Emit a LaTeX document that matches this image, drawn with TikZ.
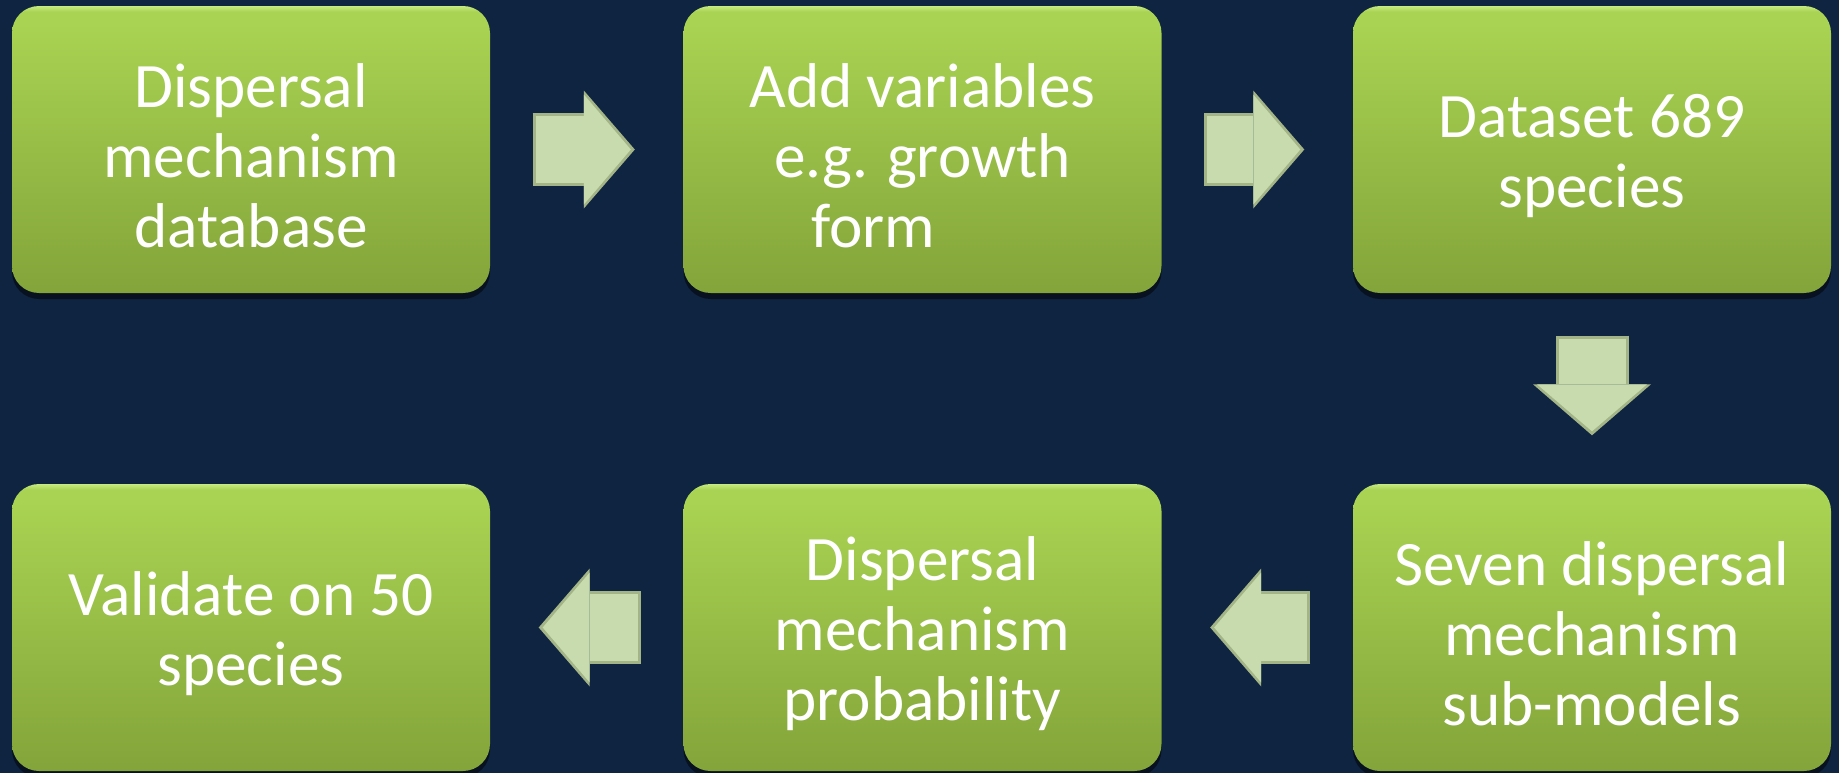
\documentclass[tikz,border=0pt]{standalone}
\usepackage{fontspec}
\setmainfont{Carlito}
\usetikzlibrary{arrows.meta, shadows}

\definecolor{bgnavy}{HTML}{0F2441}
\definecolor{boxhi}{HTML}{C6EA80}
\definecolor{boxtop}{HTML}{A9D352}
\definecolor{boxbot}{HTML}{83A43A}
\definecolor{arrowedge}{HTML}{A3B587}
\definecolor{arrowface}{HTML}{C7DBAE}

% degrade vertical des boites (bande claire en haut)
\pgfdeclareverticalshading{boxshade}{100bp}{color(0bp)=(boxbot); color(25bp)=(boxbot);
  color(72bp)=(boxtop); color(74bp)=(boxtop); color(75bp)=(boxhi); color(100bp)=(boxhi)}

% petit espace en tete pour descendre le texte
\newcommand{\topgap}{\rule{0pt}{5.6mm}}

\begin{document}
\begin{tikzpicture}[
    x=0.1mm, y=-0.1mm,
    stepbox/.style={rounded corners=2.7mm, shading=boxshade, minimum width=47.8mm,
        minimum height=28.7mm, inner sep=0pt, align=center, text=white,
        drop shadow={shadow xshift=0pt, shadow yshift=-0.6mm, opacity=0.5, fill=black}},
    % Fleche en deux couches : bord sombre puis face claire
    arrowbase/.style={draw=arrowedge, line width=7.3mm, shorten <=4.2mm, shorten >=4.8mm,
        -{Triangle[width=11.8mm, length=5.1mm, line width=0pt]}},
    arrowtop/.style={draw=arrowface, line width=6.7mm, shorten <=4.5mm, shorten >=5.2mm,
        -{Triangle[width=11mm, length=4.7mm, line width=0pt]}}
]
\tikzstyle{every node}=[font=\fontsize{18pt}{19.9pt}\selectfont]

% --- FOND ---
\useasboundingbox (0,0) rectangle (1839,773);
\fill[bgnavy] (0,0) rectangle (1839,773);

% --- RANGEE DU HAUT ---
\node[stepbox] (box-1) at (251, 149.5) {\topgap Dispersal\\mechanism\\database};
\node[stepbox] (box-2) at (922.5, 149.5) {\topgap Add variables\\e.g. growth\\form\hspace*{9.8mm}};
\node[stepbox] (box-3) at (1592, 149.5) {\topgap Dataset 689\\species};

% --- RANGEE DU BAS ---
\node[stepbox] (box-4) at (1592, 627.5) {\topgap Seven dispersal\\mechanism\\sub-models};
\node[stepbox] (box-5) at (922.5, 627.5) {\topgap Dispersal\\mechanism\\probability};
\node[stepbox] (box-6) at (251, 627.5) {\topgap Validate on 50\\species};

% --- FLECHES ---
\foreach \a/\b in {box-1.east/box-2.west, box-2.east/box-3.west, box-3.south/box-4.north,
                   box-4.west/box-5.east, box-5.west/box-6.east}
{
    \draw[arrowbase] (\a) -- (\b);
    \draw[arrowtop] (\a) -- (\b);
}

\end{tikzpicture}
\end{document}
